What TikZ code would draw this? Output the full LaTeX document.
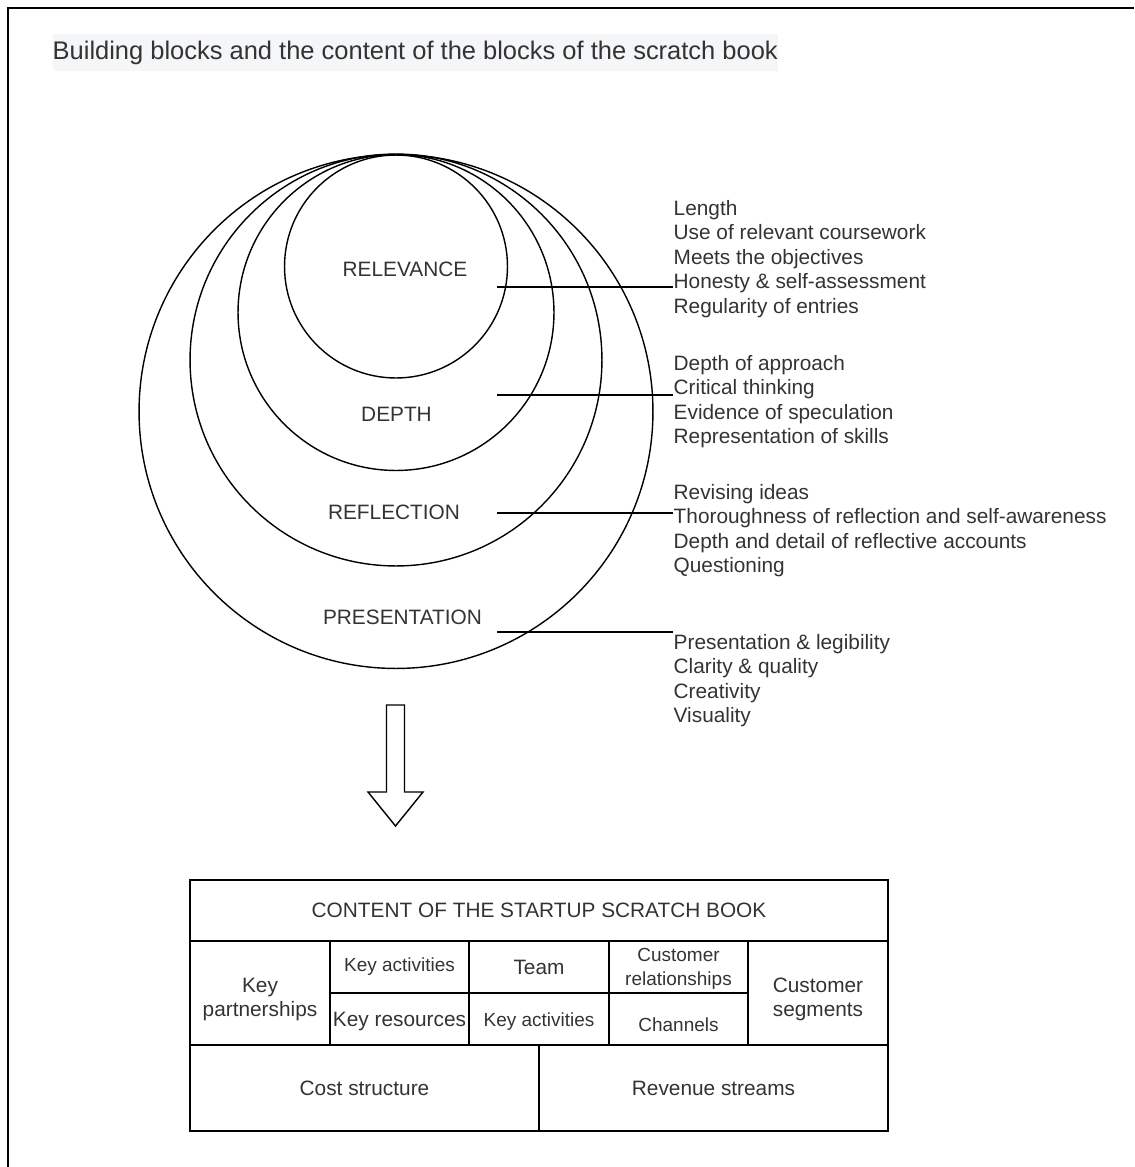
\documentclass[tikz,border=0pt]{standalone}
\usepackage{fontspec}
\setmainfont{Liberation Sans}
\usetikzlibrary{positioning}
\definecolor{ink}{HTML}{333333}
\definecolor{shade}{HTML}{F5F6F8}

\begin{document}
\begin{tikzpicture}[x=0.02cm, y=-0.02cm, line width=0.8pt,
        ring/.style={draw, circle, inner sep=0pt, outer sep=0pt},
        tag/.style={text=ink, font=\fontsize{11.85}{13.9}\selectfont, inner sep=0pt},
        crit/.style={tag, align=left, anchor=west},
        cell/.style={draw, tag, align=center, minimum width=2.8cm, minimum height=1.04cm},
        minor/.style={font=\fontsize{10.8}{13.6}\selectfont}]
                \useasboundingbox (0,0) rectangle (1134,1167);
                \draw [line width=1.2pt] (8,1167) -- (8,8) -- (1134,8);
                \node [tag, anchor=west, fill=shade, inner ysep=3.5pt, font=\fontsize{14.5}{17}\selectfont] (title) at (52,52.5) {Building blocks and the content of the blocks of the scratch book};
                \node [ring, minimum size=10.28cm] (presentation) at (396,411.5) {};
                \node [ring, minimum size=8.24cm] (reflection) at (396,360) {};
                \node [ring, minimum size=6.32cm] (depth) at (396,312.5) {};
                \node [ring, minimum size=4.46cm] (relevance) at (396,266.5) {};
                \node [tag] (relevance-l) at (405,269) {RELEVANCE};
                \node [tag] (depth-l) at (396.5,414) {DEPTH};
                \node [tag] (reflection-l) at (394,512.5) {REFLECTION};
                \node [tag] (presentation-l) at (402.5,617.5) {PRESENTATION};
                \node [crit] (relevance-c) at (673,259) {Length\\Use of relevant coursework\\Meets the objectives\\Honesty \& self-assessment\\Regularity of entries};
                \node [crit] (depth-c) at (673,401.5) {Depth of approach\\Critical thinking\\Evidence of speculation\\Representation of skills};
                \node [crit] (reflection-c) at (673,530.5) {Revising ideas\\Thoroughness of reflection and self-awareness\\Depth and detail of reflective accounts\\Questioning};
                \node [crit] (presentation-c) at (673,680.5) {Presentation \& legibility\\Clarity \& quality\\Creativity\\Visuality};
                \coordinate (relevance-e) at (497,287);
                \coordinate (depth-e) at (497,395);
                \coordinate (reflection-e) at (497,513);
                \coordinate (presentation-e) at (497,632);
                \draw (relevance-e) -- (relevance-e -| relevance-c.west);
                \draw (depth-e) -- (depth-e -| depth-c.west);
                \draw (reflection-e) -- (reflection-e -| reflection-c.west);
                \draw (presentation-e) -- (presentation-e -| presentation-c.west);
                \draw (386.5,705) -- (404.5,705) -- (404.5,792) -- (423,792) -- (395.5,826) -- (368,792) -- (386.5,792) -- cycle;
                \node [cell, minimum width=13.96cm, minimum height=1.22cm] (head) at (539,910.5) {CONTENT OF THE STARTUP SCRATCH BOOK};
                \node [cell, minimum height=2.08cm, label={[tag, align=center, yshift=-0.13cm]center:Key\\partnerships}] (partners) at (260,993) {};
                \node [cell, minor] (activities) at (399.5,967) {Key activities};
                \node [cell, label={[tag, yshift=-0.05cm]center:Key resources}] (resources) at (399.5,1019) {};
                \node [cell] (team) at (539,967) {Team};
                \node [cell, minor, label={[tag, minor, yshift=-0.05cm]center:Key activities}] (activities2) at (539,1019) {};
                \node [cell, minor, label={[tag, minor, align=center, yshift=-0.04cm]center:Customer\\relationships}] (relations) at (678.5,967) {};
                \node [cell, minor, label={[tag, minor, yshift=-0.11cm]center:Channels}] (channels) at (678.5,1019) {};
                \node [cell, minimum height=2.08cm, label={[tag, align=center, yshift=-0.13cm]center:Customer\\segments}] (segments) at (818,993) {};
                \node [cell, minimum width=6.98cm, minimum height=1.72cm] (cost) at (364.5,1088) {Cost structure};
                \node [cell, minimum width=6.98cm, minimum height=1.72cm] (revenue) at (713.5,1088) {Revenue streams};
            \end{tikzpicture}
\end{document}
